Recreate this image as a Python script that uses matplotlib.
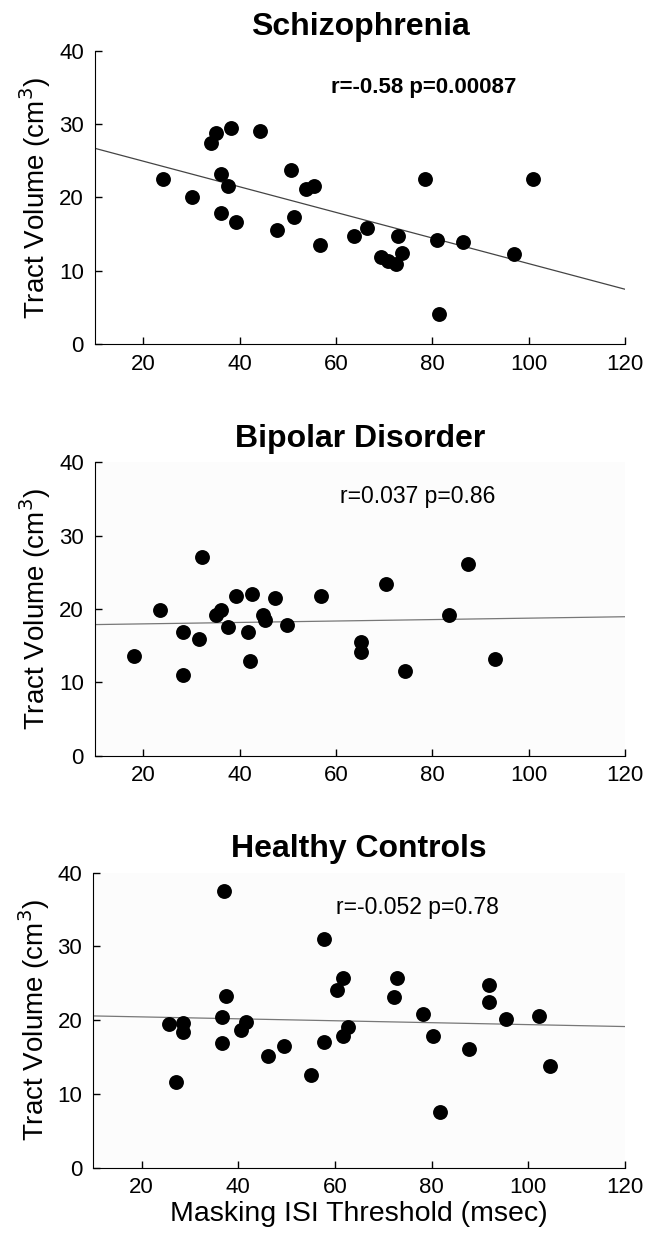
import numpy as np
import matplotlib
matplotlib.use("Agg")
import matplotlib.pyplot as plt

plt.rcParams['font.family'] = ['Liberation Sans', 'DejaVu Sans']

# Schizophrenia
scz_isi = [24.1, 30.1, 34.0, 35.2, 38.2, 44.2, 36.2, 37.6, 36.2, 39.2, 47.7, 50.7,
           51.2, 53.7, 55.4, 56.8, 63.7, 66.4, 69.4, 70.9, 72.4, 72.9, 73.8, 78.4,
           80.9, 81.4, 86.4, 97.0, 101.0]
scz_vol = [22.5, 20.1, 27.4, 28.8, 29.4, 29.0, 23.2, 21.5, 17.9, 16.6, 15.6, 23.8,
           17.3, 21.1, 21.6, 13.6, 14.7, 15.9, 11.9, 11.3, 10.9, 14.7, 12.5, 22.5,
           14.2, 4.1, 13.9, 12.3, 22.5]

# Bipolar disorder
bp_isi = [18.1, 23.5, 28.2, 28.2, 31.6, 32.2, 35.2, 36.2, 37.6, 39.2, 41.7, 42.2,
          42.6, 44.8, 45.2, 47.3, 49.8, 56.9, 65.2, 65.2, 70.4, 74.4, 83.5, 87.5, 93.0]
bp_vol = [13.6, 19.9, 16.8, 11.0, 15.9, 27.1, 19.2, 19.9, 17.5, 21.8, 16.8, 12.9,
          22.0, 19.2, 18.5, 21.5, 17.8, 21.8, 15.5, 14.2, 23.4, 11.6, 19.2, 26.1, 13.2]

# Healthy controls
hc_isi = [37.0, 25.7, 28.5, 28.5, 27.1, 36.6, 37.5, 36.6, 40.5, 41.6, 46.1, 49.5,
          55.1, 57.7, 57.7, 60.5, 61.7, 61.7, 62.6, 72.8, 72.2, 78.3, 80.2, 81.8,
          87.8, 91.9, 91.9, 95.4, 102.3, 104.4]
hc_vol = [37.5, 19.5, 19.6, 18.4, 11.6, 20.4, 23.3, 16.9, 18.7, 19.8, 15.1, 16.5,
          12.5, 31.0, 17.1, 24.1, 25.7, 17.9, 19.1, 25.7, 23.1, 20.8, 17.8, 7.6,
          16.1, 24.7, 22.4, 20.1, 20.5, 13.8]

titles = ['Schizophrenia', 'Bipolar Disorder', 'Healthy Controls']
stats = ['r=-0.58 p=0.00087', 'r=0.037 p=0.86', 'r=-0.052 p=0.78']
groups = [(scz_isi, scz_vol), (bp_isi, bp_vol), (hc_isi, hc_vol)]

fig = plt.figure(figsize=(6.48, 12.39), dpi=100)
positions = [[0.1466, 0.7220, 0.8179, 0.2372],
             [0.1466, 0.3901, 0.8179, 0.2367],
             [0.1441, 0.0577, 0.8204, 0.2379]]
line_colors = ['#444444', '#777777', '#777777']
faces = ['white', '#fcfcfc', '#fcfcfc']

for i, (xs, ys) in enumerate(groups):
    ax = fig.add_axes(positions[i])
    ax.set_facecolor(faces[i])
    ax.scatter(xs, ys, s=115, color='black', zorder=3, linewidths=0)
    # least-squares fit line
    m, b = np.polyfit(xs, ys, 1)
    fx = np.array([10, 120])
    ax.plot(fx, m * fx + b, color=line_colors[i], lw=0.9, zorder=2)
    ax.set_xlim(10, 120)
    ax.set_ylim(0, 40)
    ax.set_xticks([20, 40, 60, 80, 100, 120])
    ax.set_yticks([0, 10, 20, 30, 40])
    ax.tick_params(direction='in', labelsize=16, length=5, width=1)
    ax.tick_params(axis='y', pad=8)
    ax.tick_params(axis='x', pad=7)
    ax.spines['top'].set_visible(False)
    ax.spines['right'].set_visible(False)
    ax.set_title(titles[i], fontsize=23, fontweight='bold', pad=11)
    ax.set_ylabel('Tract Volume (cm$^3$)', fontsize=20, labelpad=4)
    if i == 0:
        ax.text(78.3, 35.0, stats[i], fontsize=16, fontweight='bold',
                ha='center', va='center')
    else:
        ax.text(77.0, 35.3, stats[i], fontsize=16.5, ha='center', va='center')

ax.set_xlabel('Masking ISI Threshold (msec)', fontsize=20.5, labelpad=2)

fig.savefig('out.png', dpi=100)
